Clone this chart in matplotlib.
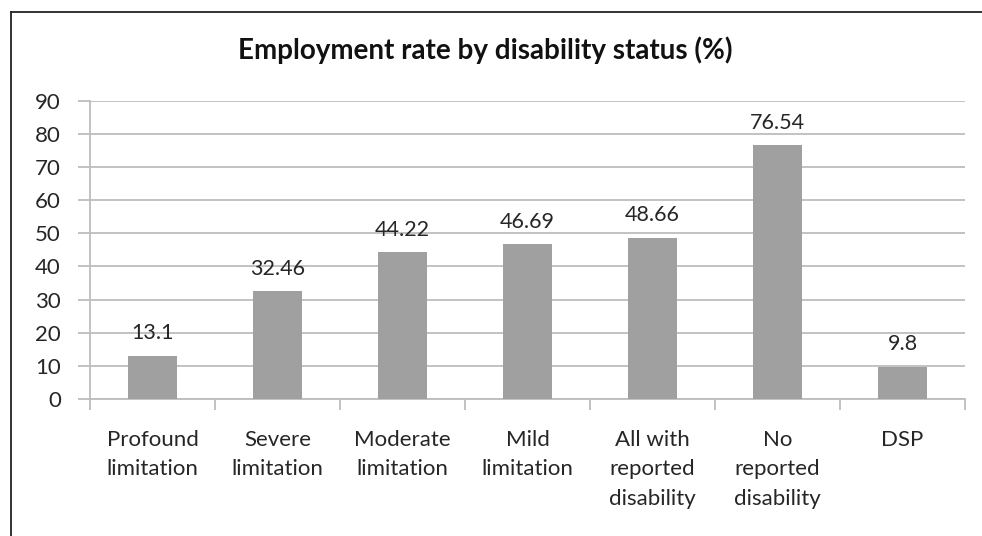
import numpy as np
import matplotlib.pyplot as plt
from matplotlib.lines import Line2D

categories = ['Profound\nlimitation', 'Severe\nlimitation', 'Moderate\nlimitation',
              'Mild\nlimitation', 'All with\nreported\ndisability',
              'No\nreported\ndisability', 'DSP']
rates = [13.1, 32.46, 44.22, 46.69, 48.66, 76.54, 9.8]
rate_labels = ['13.1', '32.46', '44.22', '46.69', '48.66', '76.54', '9.8']
y_ticks = [0, 10, 20, 30, 40, 50, 60, 70, 80, 90]

W, H = 982, 536
plt.rcParams['font.family'] = ['Lato', 'DejaVu Sans']
fig = plt.figure(figsize=(W / 100, H / 100), dpi=100)

# plot area in pixel coordinates
x0, x1, ytop, ybot = 90, 965, 100.7, 399
ax = fig.add_axes([x0 / W, 1 - ybot / H, (x1 - x0) / W, (ybot - ytop) / H])

grid_col = '#bdbdbd'
bar_col = '#a0a0a0'
text_col = '#262626'

x = np.arange(len(categories))
ax.bar(x, rates, width=0.385, color=bar_col, zorder=3)
for xi, v, lab in zip(x, rates, rate_labels):
    ax.annotate(lab, xy=(xi, v), xytext=(0, 9), textcoords='offset points',
                ha='center', va='bottom', fontsize=15.5, color=text_col)

ax.set_xlim(-0.5, len(categories) - 0.5)
ax.set_ylim(0, 90)
ax.set_yticks(y_ticks)
ax.yaxis.grid(True, color=grid_col, linewidth=1.3, zorder=0)
ax.set_axisbelow(True)

ax.set_xticks(x)
ax.set_xticklabels(categories, fontsize=16, color=text_col, linespacing=1.6)
ax.set_xticks(np.arange(-0.5, len(categories)), minor=True)
ax.tick_params(axis='x', which='major', length=0, pad=22)
ax.tick_params(axis='x', which='minor', length=8, width=1.3, color=grid_col, direction='out')
ax.tick_params(axis='y', length=9, width=1.3, color=grid_col, direction='out',
               labelsize=16, labelcolor=text_col, pad=12)

for side in ['top', 'right']:
    ax.spines[side].set_visible(False)
for side in ['left', 'bottom']:
    ax.spines[side].set_color(grid_col)
    ax.spines[side].set_linewidth(1.3)

fig.text(485 / W, 1 - 50 / H, 'Employment rate by disability status (%)',
         ha='center', va='center', fontsize=20, fontweight='bold', color='#111111')

# chart frame (left and top edges)
fig.add_artist(Line2D([10.5 / W, 10.5 / W], [0, 1 - 12 / H], transform=fig.transFigure,
                      color='#222222', linewidth=1.3))
fig.add_artist(Line2D([10.5 / W, 1], [1 - 12 / H, 1 - 12 / H], transform=fig.transFigure,
                      color='#222222', linewidth=1.3))

fig.savefig('out.png', dpi=100)
